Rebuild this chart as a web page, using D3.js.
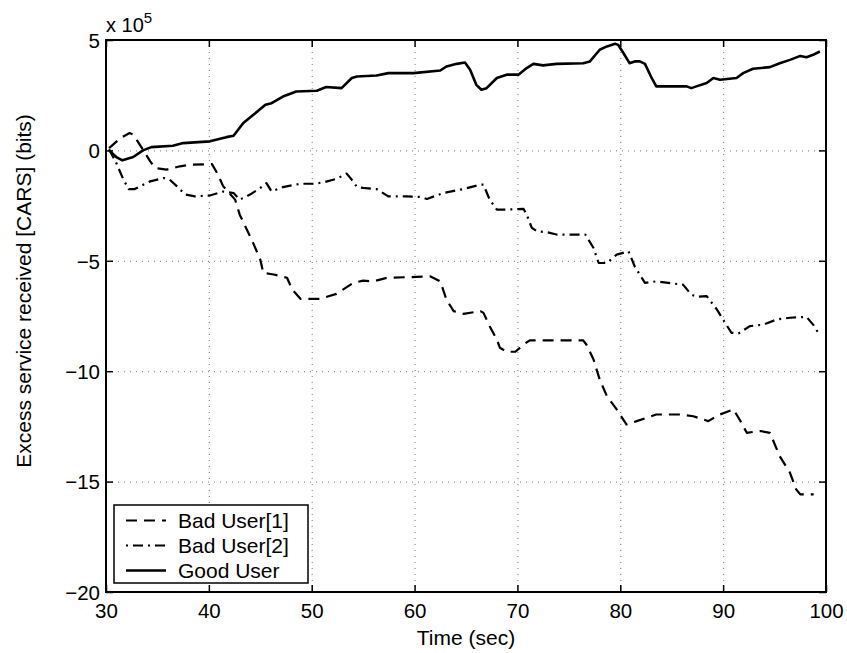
<!DOCTYPE html>
<html><head><meta charset="utf-8">
<script src="https://cdn.jsdelivr.net/npm/d3@7"></script>
<style>body{margin:0;background:#fff}svg{display:block}text{font-family:"Liberation Sans",Arial,sans-serif;fill:#000}</style>
</head><body><svg id="c" width="847" height="653"></svg>
<script>
const xTicks = [30,40,50,60,70,80,90,100];
const yTicks = [-20,-15,-10,-5,0,5];
const seriesNames = ["Bad User[1]","Bad User[2]","Good User"];

const goodT = [30.3,31.0,31.6,32.65,33.6,34.4,36.5,37.5,40.1,41.7,42.4,43.35,44.3,45.5,46.1,47.2,48.5,50.5,51.4,52.9,53.9,54.4,56.3,57.45,59.9,62.5,63.1,64.1,64.9,65.4,66.0,66.5,67.0,68.0,68.95,70.1,70.9,71.55,72.5,73.8,76.4,77.05,78.0,78.7,79.5,79.8,80.3,80.9,81.4,81.9,82.4,83.05,83.5,86.45,86.9,87.4,88.4,89.05,89.7,91.3,91.95,92.9,94.55,95.5,96.5,97.5,98.1,98.75,99.4];
const goodV = [0,-0.3,-0.45,-0.3,0,0.15,0.21,0.33,0.41,0.6,0.66,1.24,1.6,2.07,2.14,2.44,2.67,2.7,2.87,2.82,3.28,3.35,3.39,3.5,3.5,3.62,3.8,3.92,3.98,3.65,2.97,2.75,2.82,3.28,3.43,3.43,3.73,3.92,3.85,3.92,3.95,4.03,4.56,4.71,4.83,4.78,4.41,3.95,4.03,4.03,3.92,3.28,2.9,2.9,2.82,2.9,3.05,3.28,3.2,3.28,3.5,3.7,3.77,3.95,4.1,4.28,4.22,4.33,4.48];

const bad1T = [30.3,31.4,32.3,32.65,33.6,34.3,34.8,35.9,37.2,38.2,40.3,40.8,41.4,42.55,43.0,43.7,44.3,45.0,45.3,46.3,47.6,48.1,48.9,50.8,52.4,54.05,55.0,56.0,57.3,60.2,61.5,62.5,63.1,63.8,64.75,66.4,66.7,67.3,68.0,68.3,68.95,69.8,70.6,71.2,74.4,76.4,76.7,77.4,78.0,78.7,79.65,80.6,81.6,83.5,85.8,87.1,88.55,89.7,91.0,91.6,92.3,93.6,94.55,95.5,96.5,97.1,97.5,98.8];
const bad1V = [0.1,0.56,0.79,0.71,0.03,-0.5,-0.8,-0.87,-0.72,-0.65,-0.62,-1.02,-1.63,-2.23,-2.91,-3.59,-4.19,-4.95,-5.55,-5.62,-5.77,-6.3,-6.72,-6.72,-6.5,-6.0,-5.9,-5.93,-5.77,-5.73,-5.7,-5.93,-6.76,-7.28,-7.4,-7.28,-7.36,-7.96,-8.57,-8.94,-9.12,-9.12,-8.79,-8.6,-8.6,-8.6,-8.79,-9.47,-10.38,-11.13,-11.73,-12.41,-12.26,-11.96,-11.96,-12.04,-12.26,-11.96,-11.73,-12.19,-12.79,-12.71,-12.79,-13.85,-14.6,-15.35,-15.58,-15.58];

const bad2T = [30.3,31.0,31.7,32.2,32.8,34.3,35.6,36.2,36.9,37.7,38.65,40.1,41.4,42.4,43.0,44.0,45.0,45.6,46.1,47.2,48.9,50.15,51.1,52.4,53.4,53.9,54.4,55.0,56.3,57.45,59.2,60.55,61.2,62.8,64.75,66.4,66.7,67.3,68.0,68.95,70.6,70.9,71.4,71.9,72.9,73.8,75.1,76.6,77.4,77.9,78.7,79.65,80.8,81.4,82.4,83.5,85.15,86.1,86.9,87.4,88.4,89.4,90.2,90.8,91.5,92.6,93.9,95.2,96.5,98.1,98.75,99.4];
const bad2V = [0.05,-0.57,-1.33,-1.75,-1.75,-1.4,-1.25,-1.33,-1.63,-2.0,-2.08,-2.04,-1.86,-1.93,-2.23,-2.0,-1.7,-1.48,-1.86,-1.66,-1.51,-1.51,-1.45,-1.29,-1.05,-1.33,-1.66,-1.7,-1.75,-2.08,-2.08,-2.11,-2.2,-1.93,-1.75,-1.55,-1.55,-2.23,-2.68,-2.68,-2.65,-2.91,-3.51,-3.66,-3.71,-3.81,-3.81,-3.81,-4.42,-5.1,-5.1,-4.72,-4.57,-5.25,-6.0,-5.93,-6.03,-6.08,-6.53,-6.63,-6.6,-7.21,-7.81,-8.26,-8.29,-7.96,-7.89,-7.66,-7.58,-7.54,-7.89,-8.38];

const L = 106, R = 826, T = 40, B = 592;
const FS = "21px", TFS = "20.5px";
const svg = d3.select("#c");
const x = d3.scaleLinear().domain([30,100]).range([L,R]);
const y = d3.scaleLinear().domain([-20,5]).range([B,T]);

// grid
const grid = svg.append("g").attr("stroke","#777").attr("stroke-width",1).attr("stroke-dasharray","1,5");
grid.selectAll(".gx").data(xTicks.filter(d=>d>30&&d<100)).enter().append("line")
  .attr("x1",d=>x(d)+0.5).attr("x2",d=>x(d)+0.5).attr("y1",T).attr("y2",B);
grid.selectAll(".gy").data(yTicks.filter(d=>d>-20&&d<5)).enter().append("line")
  .attr("y1",d=>y(d)+0.5).attr("y2",d=>y(d)+0.5).attr("x1",L).attr("x2",R);

// axes
const fmt = d => d < 0 ? "\u2212" + Math.abs(d) : String(d);
const xAx = svg.append("g").attr("transform",`translate(0,${B})`)
  .call(d3.axisBottom(x).tickValues(xTicks).tickSizeInner(-7).tickSizeOuter(0).tickPadding(11).tickFormat(d=>d));
const yAx = svg.append("g").attr("transform",`translate(${L},0)`)
  .call(d3.axisLeft(y).tickValues(yTicks).tickSizeInner(-7).tickSizeOuter(0).tickPadding(6).tickFormat(fmt));
const xTop = svg.append("g").attr("transform",`translate(0,${T})`)
  .call(d3.axisTop(x).tickValues(xTicks).tickSizeInner(-7).tickSizeOuter(0).tickFormat(""));
const yRight = svg.append("g").attr("transform",`translate(${R},0)`)
  .call(d3.axisRight(y).tickValues(yTicks).tickSizeInner(-7).tickSizeOuter(0).tickFormat(""));
[xAx,yAx,xTop,yRight].forEach(g=>{
  g.select(".domain").remove();
  g.selectAll("line").attr("stroke","#000").attr("stroke-width",1.5);
  g.selectAll("text").style("font-size",TFS).style("font-family","Liberation Sans, Arial, sans-serif").attr("fill","#000");
});
yAx.selectAll("text").attr("dy","0.36em");
xAx.selectAll("text").attr("dy","0.71em");

// frame
svg.append("rect").attr("x",L).attr("y",T).attr("width",R-L).attr("height",B-T)
  .attr("fill","none").attr("stroke","#000").attr("stroke-width",2);

// series
const line = d3.line().x(d=>x(d[0])).y(d=>y(d[1]));
const zip = (a,b)=>a.map((t,i)=>[t,b[i]]);
const styles = [
  {data: zip(bad1T,bad1V), dash:"11,7", w:2.2},
  {data: zip(bad2T,bad2V), dash:"10,5,2,5", w:2.2},
  {data: zip(goodT,goodV), dash:null, w:2.6}
];
svg.append("clipPath").attr("id","pc").append("rect").attr("x",L).attr("y",T).attr("width",R-L).attr("height",B-T);
styles.forEach(s=>{
  svg.append("path").attr("d",line(s.data)).attr("fill","none").attr("stroke","#000")
    .attr("stroke-width",s.w).attr("stroke-dasharray",s.dash).attr("stroke-linejoin","round")
    .attr("clip-path","url(#pc)");
});

// legend
const lg = svg.append("g");
lg.append("rect").attr("x",114).attr("y",505).attr("width",194).attr("height",78)
  .attr("fill","#fff").attr("stroke","#000").attr("stroke-width",1.5);
seriesNames.forEach((n,i)=>{
  const cy = 520.5 + i*25;
  lg.append("line").attr("x1",126).attr("x2",166).attr("y1",cy).attr("y2",cy)
    .attr("stroke","#000").attr("stroke-width",styles[i].w)
    .attr("stroke-dasharray", i===0 ? "11,7" : i===1 ? "2,5,10,5" : null);
  lg.append("text").attr("x",178).attr("y",cy).attr("dy","0.36em").style("font-size",FS).text(n);
});

// exponent label
const ex = svg.append("text").attr("x",106).attr("y",32).style("font-size","20px");
ex.append("tspan").text("x 10");
ex.append("tspan").attr("dy",-9).style("font-size","15px").text("5");

// axis labels
svg.append("text").attr("x",(L+R)/2).attr("y",645).attr("text-anchor","middle").style("font-size",FS).text("Time (sec)");
svg.append("text").attr("transform","translate(31,291) rotate(-90)").attr("text-anchor","middle").style("font-size",FS).text("Excess service received [CARS] (bits)");
</script></body></html>
